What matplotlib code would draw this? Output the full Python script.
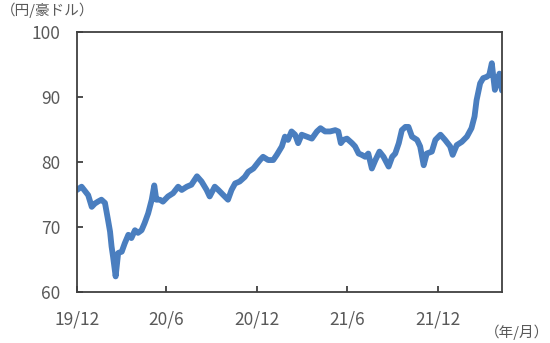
import matplotlib
matplotlib.use("Agg")
import matplotlib.pyplot as plt
import pandas as pd

plt.rcParams['font.family'] = ['Noto Sans CJK JP', 'DejaVu Sans']

# 円/豪ドル
dates = ["2020-01-01","2020-01-10","2020-01-16","2020-01-23","2020-01-30","2020-02-05","2020-02-11",
         "2020-02-18","2020-02-25","2020-03-02","2020-03-06","2020-03-09","2020-03-12","2020-03-17",
         "2020-03-22","2020-03-29","2020-04-04","2020-04-11","2020-04-17","2020-04-24","2020-04-30",
         "2020-05-07","2020-05-13","2020-05-20","2020-05-27","2020-06-01","2020-06-05","2020-06-12",
         "2020-06-18","2020-06-28","2020-07-08","2020-07-18","2020-07-25","2020-08-04","2020-08-13",
         "2020-08-24","2020-09-02","2020-09-12","2020-09-18","2020-09-28","2020-10-05","2020-10-15",
         "2020-10-24","2020-10-31","2020-11-07","2020-11-16","2020-11-26","2020-12-03","2020-12-13",
         "2020-12-16","2020-12-26","2021-01-01","2021-01-11","2021-01-21","2021-01-28","2021-02-07",
         "2021-02-13","2021-02-19","2021-02-26","2021-03-05","2021-03-11","2021-03-18","2021-03-28",
         "2021-04-07","2021-04-17","2021-04-24","2021-05-03","2021-05-13","2021-05-23","2021-05-29",
         "2021-06-03","2021-06-08","2021-06-15","2021-06-25","2021-07-01","2021-07-08","2021-07-14",
         "2021-07-21","2021-07-27","2021-08-03","2021-08-10","2021-08-18","2021-08-26","2021-09-05",
         "2021-09-12","2021-09-18","2021-09-25","2021-10-01","2021-10-08","2021-10-14","2021-10-21",
         "2021-10-31","2021-11-06","2021-11-13","2021-11-19","2021-11-29","2021-12-06","2021-12-16",
         "2021-12-25","2022-01-04","2022-01-09","2022-01-17","2022-01-27","2022-02-06","2022-02-15",
         "2022-02-21","2022-02-25","2022-03-04","2022-03-10","2022-03-17","2022-03-22","2022-03-27",
         "2022-03-30","2022-04-02","2022-04-08","2022-04-11","2022-04-16"]
audjpy = [75.7, 76.2, 75.6, 74.9, 73.1, 73.6, 73.9,
          74.2, 73.7, 71.1, 69.3, 67.0, 65.4, 62.4,
          66.0, 66.2, 67.5, 68.8, 68.3, 69.5, 69.1,
          69.5, 70.6, 72.1, 74.2, 76.4, 74.2, 74.2,
          73.9, 74.7, 75.2, 76.2, 75.7, 76.2, 76.5,
          77.8, 77.0, 75.7, 74.7, 76.2, 75.7, 74.9,
          74.2, 75.7, 76.7, 77.0, 77.7, 78.5, 79.0,
          79.3, 80.3, 80.8, 80.3, 80.3, 81.1, 82.4,
          83.9, 83.4, 84.7, 84.2, 82.9, 84.2, 83.9,
          83.6, 84.7, 85.2, 84.7, 84.7, 84.9, 84.7,
          82.9, 83.4, 83.6, 82.9, 82.4, 81.3, 81.1,
          80.8, 81.3, 79.0, 80.3, 81.6, 80.8, 79.3,
          80.8, 81.3, 82.9, 84.9, 85.4, 85.4, 83.9,
          83.4, 82.4, 79.5, 81.3, 81.6, 83.4, 84.2,
          83.4, 82.4, 81.1, 82.6, 83.1, 83.9, 85.2,
          87.0, 89.5, 92.1, 92.9, 93.1, 93.4, 95.2,
          93.1, 91.1, 92.6, 93.6, 91.0]

x_start, x_end = "2020-01-01", "2022-04-16"
tick_dates = ["2020-01-01", "2020-06-24", "2020-12-20", "2021-06-15", "2021-12-11"]
tick_labels = ["19/12", "20/6", "20/12", "21/6", "21/12"]
y_ticks = [60, 70, 80, 90, 100]

gray = "#595959"
fig = plt.figure(figsize=(5.5, 3.43), dpi=100)
ax = fig.add_axes([0.14, 0.1487, 0.7727, 0.758])
ax.plot(pd.to_datetime(dates), audjpy, color="#4a7ebf", lw=4.2, solid_joinstyle="round",
        solid_capstyle="round")
ax.set_xlim(pd.Timestamp(x_start), pd.Timestamp(x_end))
ax.set_ylim(60, 100)
ax.set_yticks(y_ticks)
ax.set_xticks(pd.to_datetime(tick_dates))
ax.set_xticklabels(tick_labels)
for s in ax.spines.values():
    s.set_color("#404040"); s.set_linewidth(1.3)
ax.tick_params(axis="both", direction="in", length=4, width=1.3, color="#404040",
               labelcolor=gray, labelsize=12.5)
ax.tick_params(axis="y", pad=12)
ax.tick_params(axis="x", pad=13)
fig.text(0.001, 0.97, "（円/豪ドル）", fontsize=10.5, color=gray, ha="left", va="center")
fig.text(0.998, 0.032, "（年/月）", fontsize=10.5, color=gray, ha="right", va="center")
fig.savefig("out.png", dpi=100)
